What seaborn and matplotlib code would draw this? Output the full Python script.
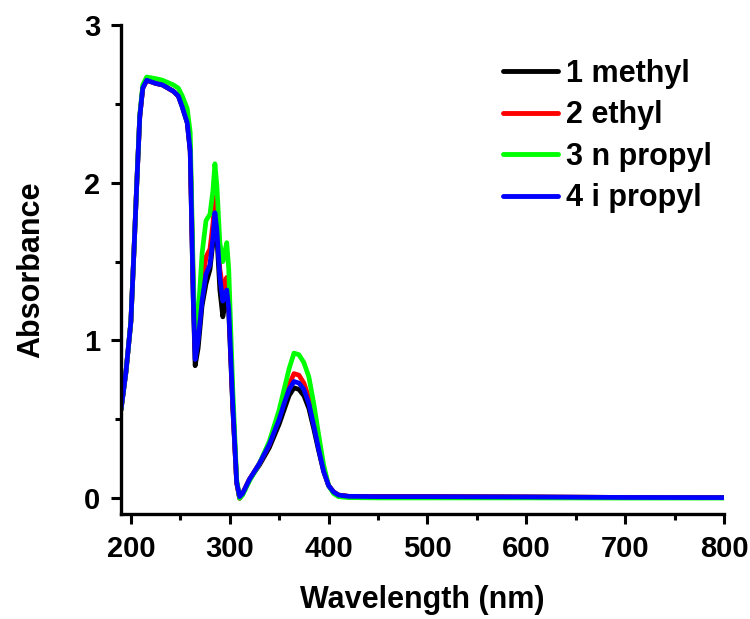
import numpy as np
import pandas as pd
import matplotlib
matplotlib.use("Agg")
import matplotlib.pyplot as plt
from matplotlib.ticker import MultipleLocator
import seaborn as sns

# Wavelength grid (nm) shared by all four spectra
wavelength = [190, 195, 200, 203, 206, 209, 212, 216, 225, 232, 243, 248, 252, 257, 260,
              263, 265, 268, 272, 276, 280, 283, 285, 287, 290, 293, 295, 297, 299, 303,
              307, 310, 313, 320, 330, 340, 350, 355, 360, 365, 370, 375, 380, 385, 390,
              395, 400, 405, 410, 420, 450, 500, 600, 700, 800]

methyl = [0.56, 0.80, 1.12, 1.55, 2.00, 2.42, 2.60, 2.65, 2.63, 2.62, 2.58, 2.55, 2.48, 2.38, 2.20,
          1.28, 0.84, 0.95, 1.22, 1.36, 1.45, 1.62, 1.78, 1.66, 1.32, 1.15, 1.22, 1.30, 1.18, 0.58,
          0.10, 0.00, 0.03, 0.12, 0.21, 0.32, 0.47, 0.56, 0.65, 0.70, 0.69, 0.65, 0.57, 0.44, 0.30,
          0.17, 0.08, 0.04, 0.02, 0.012, 0.01, 0.01, 0.008, 0.005, 0.004]

ethyl = [0.56, 0.80, 1.12, 1.55, 2.00, 2.42, 2.60, 2.65, 2.63, 2.62, 2.58, 2.55, 2.49, 2.40, 2.22,
         1.35, 0.95, 1.05, 1.35, 1.53, 1.58, 1.74, 1.91, 1.78, 1.45, 1.33, 1.36, 1.40, 1.25, 0.60,
         0.10, 0.00, 0.03, 0.12, 0.22, 0.34, 0.51, 0.62, 0.72, 0.79, 0.78, 0.73, 0.64, 0.49, 0.33,
         0.18, 0.08, 0.04, 0.02, 0.012, 0.01, 0.01, 0.008, 0.005, 0.004]

n_propyl = [0.56, 0.80, 1.12, 1.55, 2.00, 2.43, 2.62, 2.67, 2.66, 2.65, 2.62, 2.60, 2.55, 2.47, 2.32,
            1.45, 1.00, 1.15, 1.55, 1.76, 1.80, 1.95, 2.12, 1.98, 1.62, 1.50, 1.56, 1.62, 1.45, 0.70,
            0.12, 0.00, 0.02, 0.11, 0.22, 0.36, 0.56, 0.69, 0.82, 0.92, 0.91, 0.86, 0.77, 0.60, 0.40,
            0.21, 0.08, 0.03, 0.01, 0.004, 0.002, 0.002, 0.002, 0.001, 0.001]

i_propyl = [0.56, 0.80, 1.12, 1.55, 2.00, 2.42, 2.60, 2.65, 2.63, 2.62, 2.58, 2.55, 2.48, 2.38, 2.20,
            1.30, 0.88, 1.00, 1.25, 1.42, 1.48, 1.65, 1.81, 1.70, 1.40, 1.25, 1.28, 1.32, 1.20, 0.60,
            0.10, 0.01, 0.03, 0.12, 0.22, 0.34, 0.50, 0.60, 0.69, 0.74, 0.73, 0.69, 0.60, 0.46, 0.31,
            0.17, 0.08, 0.04, 0.02, 0.012, 0.01, 0.01, 0.008, 0.005, 0.004]

series_names = ["1 methyl", "2 ethyl", "3 n propyl", "4 i propyl"]
series_colors = ["#000000", "#FF0000", "#00FF00", "#0000FF"]

frames = []
for name, vals in zip(series_names, [methyl, ethyl, n_propyl, i_propyl]):
    frames.append(pd.DataFrame({"Wavelength": wavelength, "Absorbance": vals, "Sample": name}))
df = pd.concat(frames, ignore_index=True)

sns.set_style("ticks")
plt.rcParams["font.family"] = ["Liberation Sans", "DejaVu Sans"]
plt.rcParams["font.weight"] = "bold"
plt.rcParams["text.color"] = "black"
plt.rcParams["axes.labelcolor"] = "black"
plt.rcParams["xtick.color"] = "black"
plt.rcParams["ytick.color"] = "black"

fig = plt.figure(figsize=(7.5, 6.19), dpi=100)
ax = fig.add_axes([121 / 750, 1 - 514 / 619, 603 / 750, 489 / 619])

sns.lineplot(data=df, x="Wavelength", y="Absorbance", hue="Sample",
             hue_order=series_names, palette=series_colors, linewidth=3.4,
             ax=ax, sort=False, estimator=None)

ax.set_xlim(190, 800)
ax.set_ylim(-0.1, 3)
ax.xaxis.set_major_locator(MultipleLocator(100))
ax.xaxis.set_minor_locator(MultipleLocator(50))
ax.yaxis.set_major_locator(MultipleLocator(1))
ax.yaxis.set_minor_locator(MultipleLocator(0.5))

for side in ["top", "right"]:
    ax.spines[side].set_visible(False)
for side in ["left", "bottom"]:
    ax.spines[side].set_linewidth(2.4)
    ax.spines[side].set_color("black")

ax.tick_params(which="major", direction="out", length=7, width=2.2, labelsize=21)
ax.tick_params(axis="x", which="major", pad=8)
ax.tick_params(axis="y", which="major", pad=8)
ax.tick_params(which="minor", direction="out", length=4.5, width=2.2)
for lbl in ax.get_xticklabels() + ax.get_yticklabels():
    lbl.set_fontweight("bold")

ax.set_xlabel("Wavelength (nm)", fontsize=22, fontweight="bold", labelpad=16)
ax.set_ylabel("Absorbance", fontsize=22, fontweight="bold", labelpad=27)

leg = ax.legend(loc="upper right", frameon=False, fontsize=22, handlelength=1.8,
                handletextpad=0.25, labelspacing=0.38, borderaxespad=0.3,
                bbox_to_anchor=(1.015, 0.975))
for line in leg.get_lines():
    line.set_linewidth(3.5)
for txt in leg.get_texts():
    txt.set_fontweight("bold")

fig.savefig("out.png", dpi=100)
